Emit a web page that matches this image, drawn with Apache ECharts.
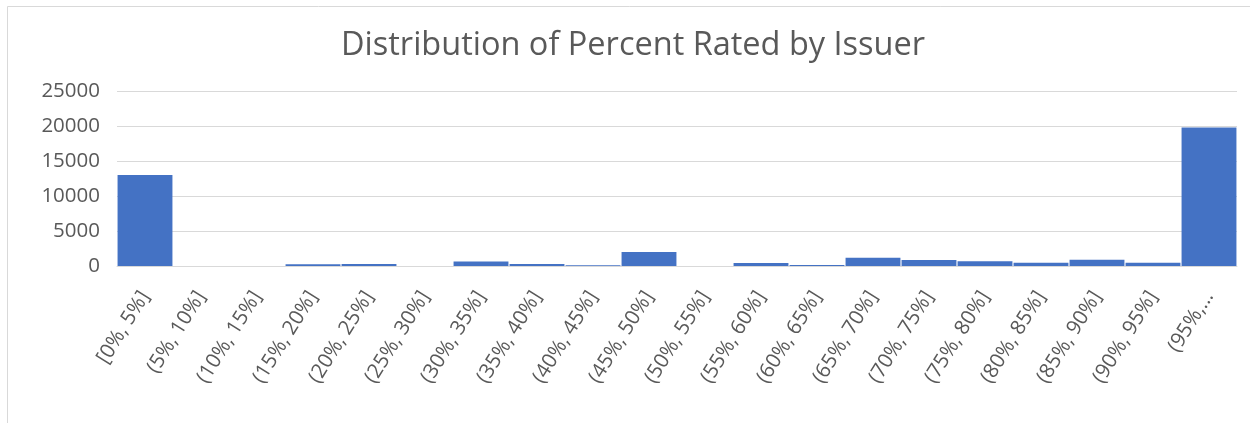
<!DOCTYPE html>
<html>
<head>
<meta charset="utf-8">
<script src="https://cdn.jsdelivr.net/npm/echarts@6/dist/echarts.min.js"></script>
<style>
html,body{margin:0;padding:0;background:#fff;}
#c{width:1250px;height:423px;}
</style>
</head>
<body>
<div id="c"></div>
<script>
const title = "Distribution of Percent Rated by Issuer";
const categories = ["[0%, 5%]","(5%, 10%]","(10%, 15%]","(15%, 20%]","(20%, 25%]","(25%, 30%]","(30%, 35%]","(35%, 40%]","(40%, 45%]","(45%, 50%]","(50%, 55%]","(55%, 60%]","(60%, 65%]","(65%, 70%]","(70%, 75%]","(75%, 80%]","(80%, 85%]","(85%, 90%]","(90%, 95%]","(95%, 100%]"];
const tickLabels = ["[0%, 5%]","(5%, 10%]","(10%, 15%]","(15%, 20%]","(20%, 25%]","(25%, 30%]","(30%, 35%]","(35%, 40%]","(40%, 45%]","(45%, 50%]","(50%, 55%]","(55%, 60%]","(60%, 65%]","(65%, 70%]","(70%, 75%]","(75%, 80%]","(80%, 85%]","(85%, 90%]","(90%, 95%]","(95%,…"];
const counts = [13000, 0, 0, 260, 280, 0, 630, 280, 120, 2000, 0, 420, 130, 1180, 850, 670, 480, 880, 480, 19800];
const yTicks = [0, 5000, 10000, 15000, 20000, 25000];

const chart = echarts.init(document.getElementById('c'), null, {renderer: 'canvas'});
const font = "'Open Sans', sans-serif";
chart.setOption({
  animation: false,
  backgroundColor: '#fff',
  graphic: [{
    type: 'rect', silent: true, z: -10,
    shape: {x: 7.5, y: 6.5, width: 1400, height: 600},
    style: {fill: '#fff', stroke: '#d9d9d9', lineWidth: 1}
  }],
  title: {
    text: title, left: 336, top: 24,
    textStyle: {fontFamily: font, fontSize: 32.5, fontWeight: 'normal', color: '#595959'}
  },
  grid: {left: 117, right: 13, top: 91, bottom: 157},
  xAxis: {
    type: 'category', data: categories,
    axisLine: {lineStyle: {color: '#d9d9d9', width: 1}},
    axisTick: {show: false},
    axisLabel: {
      interval: 0, rotate: 58, margin: 27,
      fontFamily: font, fontSize: 20.5, color: '#595959',
      formatter: (v, i) => tickLabels[i]
    }
  },
  yAxis: {
    type: 'value', min: yTicks[0], max: yTicks[yTicks.length - 1], interval: 5000,
    axisLine: {show: false}, axisTick: {show: false},
    splitLine: {lineStyle: {color: '#d9d9d9', width: 1}},
    axisLabel: {margin: 17, fontFamily: font, fontSize: 20.5, color: '#595959',
      formatter: v => String(v)}
  },
  series: [{
    type: 'bar', data: counts, barCategoryGap: '2%',
    itemStyle: {color: '#4472c4'}
  }]
});
</script>
</body>
</html>
